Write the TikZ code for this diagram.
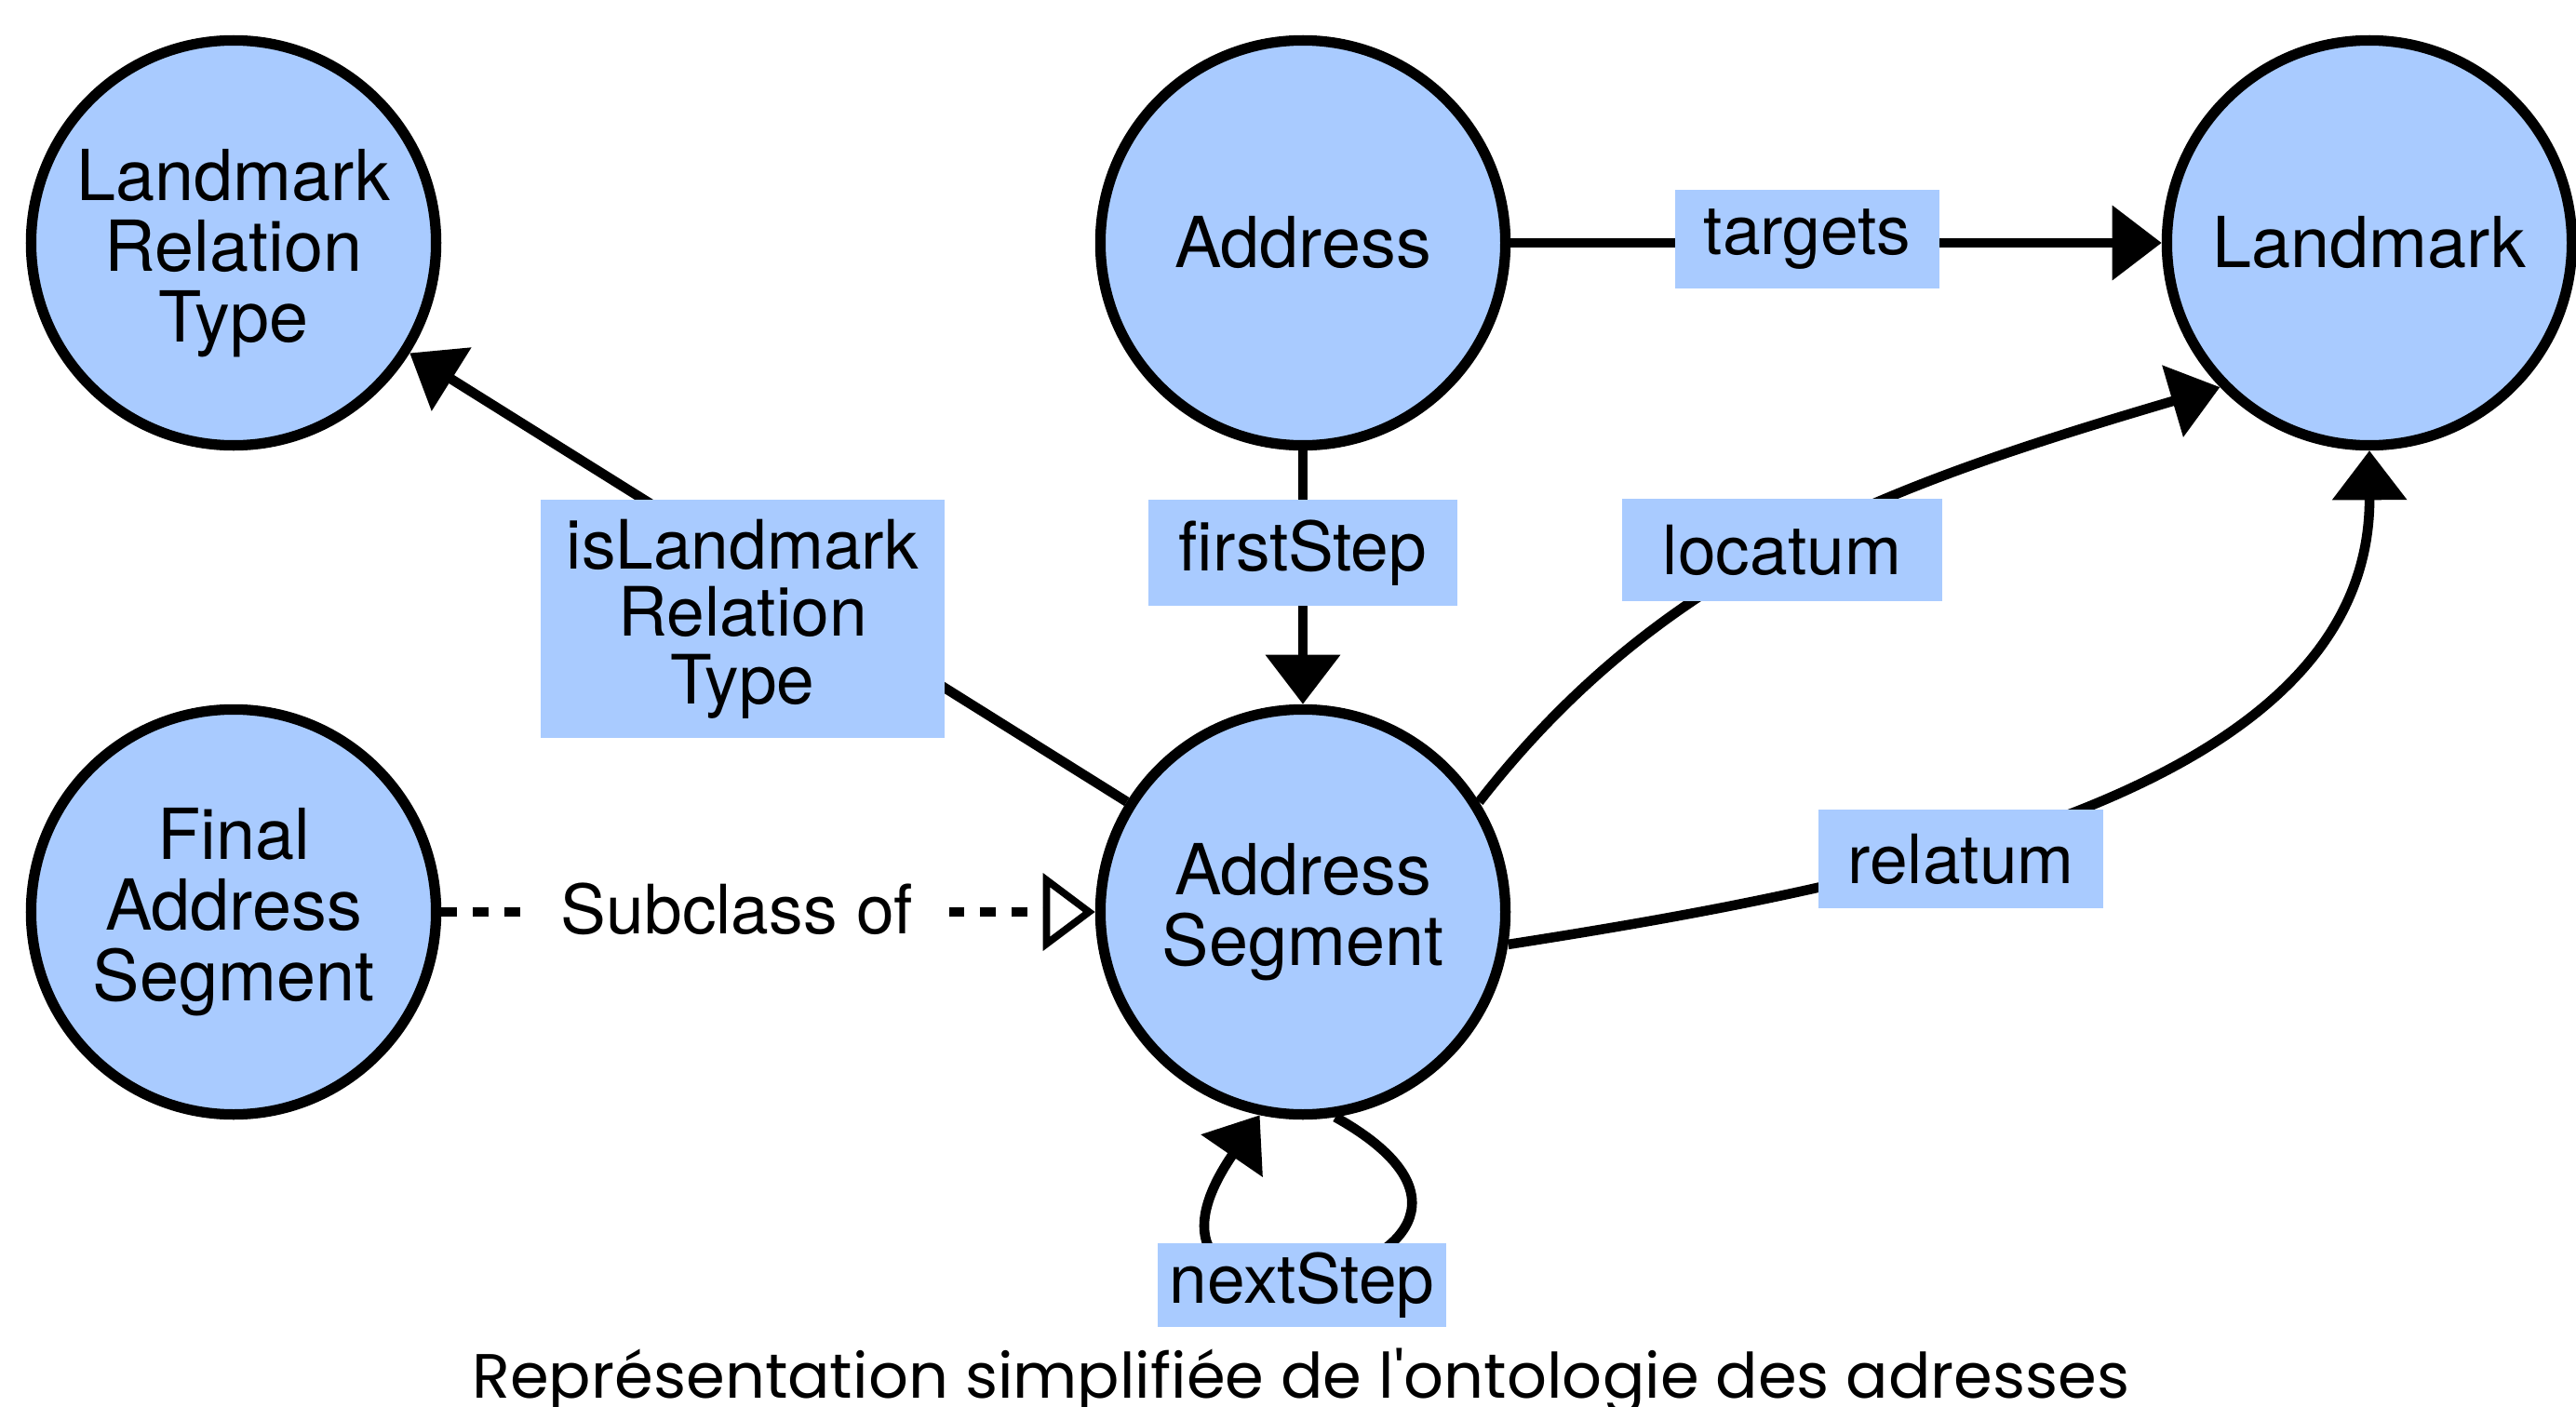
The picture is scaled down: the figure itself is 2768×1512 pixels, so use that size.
\documentclass[tikz,border=0pt]{standalone}
\usepackage{fontspec}
\setmainfont{TeX Gyre Heros}
\newfontfamily\capfont{Poppins}
\usetikzlibrary{arrows.meta}
\definecolor{nodeblue}{RGB}{169,203,255}
\begin{document}
\begin{tikzpicture}[x=0.01cm,y=-0.01cm,
  cls/.style={circle, draw=black, line width=3.2pt, fill=nodeblue, minimum size=4.35cm, inner sep=0pt, align=center, font=\fontsize{21.5}{21.6}\selectfont},
  lbl/.style={rectangle, fill=nodeblue, inner sep=0pt, align=center, font=\fontsize{20.8}{20.6}\selectfont},
  rel/.style={line width=3pt, -{Triangle[length=0.53cm,width=0.78cm]}},
  subcl/.style={line width=3pt, dash pattern=on 0.17cm off 0.17cm, -{Triangle[open,length=0.56cm,width=0.82cm,line width=2.2pt]}},
]
\useasboundingbox (0,0) rectangle (2768,1512);
% classes
\node[cls] (LRT) at (251,261) {\rule{0pt}{0.78cm}Landmark\\Relation\\Type};
\node[cls] (Addr) at (1400,261) {Address};
\node[cls] (LM) at (2546,261) {Landmark};
\node[cls] (FAS) at (251,980) {Final\\Address\\Segment};
\node[cls] (AS) at (1400,980) {Address\\Segment};
% relations
\draw[rel] (Addr) -- (LM);
\draw[rel] (Addr) -- (AS);
\draw[rel] (AS) -- (LRT);
\draw[rel] (AS.32) .. controls (1789,605) and (2033,520) .. (LM.224);
\draw[rel] (AS.-9) .. controls (2070,945) and (2547,841) .. (LM.-90);
\draw[rel] (AS.-81) .. controls (1720,1360) and (1160,1480) .. (AS.-102);
\draw[subcl] (FAS) -- (AS);
% labels
\node[lbl, minimum width=2.83cm, minimum height=1.06cm] (Lt) at (1942,257) {targets};
\node[lbl, minimum width=3.31cm, minimum height=1.13cm] (Lf) at (1400,594) {firstStep};
\node[lbl, minimum width=3.43cm, minimum height=1.10cm] (Ll) at (1915,591) {locatum};
\node[lbl, minimum width=3.06cm, minimum height=1.06cm] (Lr) at (2107,923) {relatum};
\node[lbl, minimum width=4.34cm, minimum height=2.56cm] (Li) at (798,665) {isLandmark\\Relation\\Type};
\node[lbl, minimum width=3.10cm, minimum height=0.90cm] (Ln) at (1399,1381) {nextStep};
\node[fill=white, inner sep=0pt, minimum width=4.55cm, minimum height=0.9cm, font=\fontsize{20.8}{20.6}\selectfont] (Ls) at (792,977) {Subclass of};
% caption
\node[anchor=base, inner sep=0pt] (cap) at (1398,1502) {\resizebox{17.8cm}{!}{\capfont Représentation simplifiée de l'ontologie des adresses}};
\end{tikzpicture}
\end{document}
